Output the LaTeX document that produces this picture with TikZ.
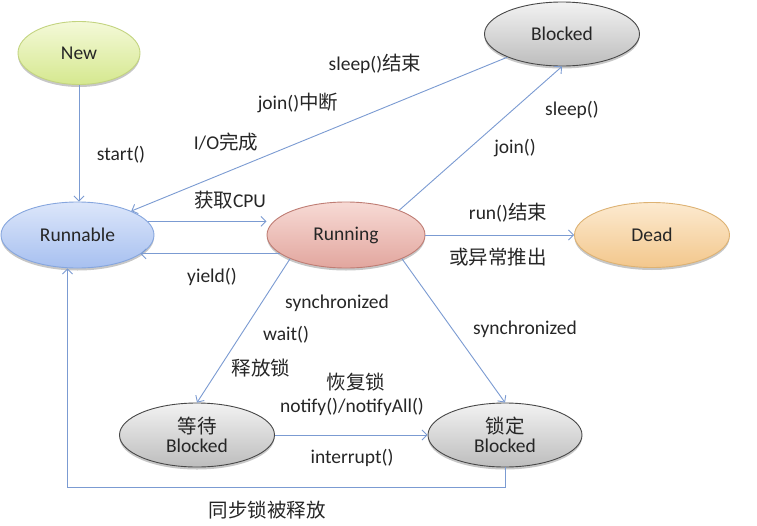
\documentclass[tikz,border=0pt]{standalone}
\usepackage{fontspec}
\setmainfont{Carlito}
\newfontfamily\cjk{Noto Sans CJK SC}
\newcommand\zh[1]{{\cjk #1}}
\usetikzlibrary{arrows.meta,shapes.geometric,shadows}
\definecolor{arrowc}{HTML}{7B9BD2}
\definecolor{txt}{HTML}{262626}
\tikzset{
  state/.style={ellipse, inner sep=0pt, line width=0.9pt, text=txt,
    font=\fontsize{19.5pt}{22pt}\selectfont, align=center,
    drop shadow={shadow xshift=0pt, shadow yshift=-2.5pt, opacity=0.22, fill=black}},
  newst/.style={state, draw=HTML-new, top color=NewTop, bottom color=NewBot},
  lbl/.style={text=txt, font=\fontsize{19.5pt}{22pt}\selectfont, inner sep=0pt},
  arr/.style={draw=arrowc, line width=0.9pt, -{Straight Barb[length=5pt,width=10pt]}},
}
\definecolor{NewTop}{HTML}{F4F9D8}
\definecolor{NewBot}{HTML}{D5E88F}
\definecolor{NewBd}{HTML}{C3D480}
\definecolor{RunaTop}{HTML}{DCE6FA}
\definecolor{RunaBot}{HTML}{A7C0F0}
\definecolor{RunaBd}{HTML}{86A6DE}
\definecolor{RuniTop}{HTML}{F7DAD5}
\definecolor{RuniBot}{HTML}{E2A69E}
\definecolor{RuniBd}{HTML}{BF7D74}
\definecolor{GrTop}{HTML}{F2F2F2}
\definecolor{GrBot}{HTML}{BDBDBD}
\definecolor{GrBd}{HTML}{474747}
\definecolor{DdTop}{HTML}{FCEAD0}
\definecolor{DdBot}{HTML}{F3C78C}
\definecolor{DdBd}{HTML}{DDB273}
\begin{document}
\begin{tikzpicture}[x=1pt,y=-1pt]
\useasboundingbox (0,0) rectangle (757,525);
\fill[white] (0,0) rectangle (757,525);

\node[state, draw=NewBd, top color=NewTop, bottom color=NewBot,
  minimum width=122pt, minimum height=63pt] (new) at (79,53) {New};
\node[state, draw=RunaBd, top color=RunaTop, bottom color=RunaBot,
  minimum width=153pt, minimum height=66pt] (runnable) at (77.5,235) {Runnable};
\node[state, draw=RuniBd, top color=RuniTop, bottom color=RuniBot,
  minimum width=158pt, minimum height=66pt] (running) at (346,235) {Running};
\node[state, draw=GrBd, top color=GrTop, bottom color=GrBot,
  minimum width=155pt, minimum height=64pt] (blocked) at (562,34) {Blocked};
\node[state, draw=DdBd, top color=DdTop, bottom color=DdBot,
  minimum width=155pt, minimum height=65pt] (dead) at (652,235) {Dead};
\node[state, draw=GrBd, top color=GrTop, bottom color=GrBot,
  minimum width=155pt, minimum height=64pt] (waitb) at (197,435) {\zh{等待}\\[-3pt]Blocked};
\node[state, draw=GrBd, top color=GrTop, bottom color=GrBot,
  minimum width=154pt, minimum height=64pt] (lockb) at (505,435) {\zh{锁定}\\[-3pt]Blocked};

% connectors
\draw[arr] (new.south) -- (new.south |- runnable.north);
\draw[arr] (blocked.203) -- (runnable.24);
\draw[arr] (runnable.11) -- (runnable.11 -| running.west);
\draw[arr] (running.196) -- (running.196 -| runnable.-17);
\draw[arr] (running.25) -- (blocked.south);
\draw[arr] (running.east) -- (dead.west);
\draw[arr] (running.203) -- (waitb.north);
\draw[arr] (running.-23) -- (lockb.north);
\draw[arr] (waitb.east) -- (lockb.west);
\draw[arr] (lockb.south) -- ++(0,20) -| ([xshift=-10pt]runnable.south);

% labels
\node[lbl] (l1) at (121,155) {start()};
\node[lbl] (l2) at (375,64) {sleep()\zh{结束}};
\node[lbl] (l3) at (298,103) {join()\zh{中断}};
\node[lbl] (l4) at (226,142) {I/O\zh{完成}};
\node[lbl] (l5) at (230,200) {\zh{获取}CPU};
\node[lbl] (l6) at (212,277) {yield()};
\node[lbl] (l7) at (572,110) {sleep()};
\node[lbl] (l8) at (515,148) {join()};
\node[lbl] (l9) at (508,213) {run()\zh{结束}};
\node[lbl] (l10) at (498,257) {\zh{或异常推出}};
\node[lbl] (l11) at (337,303) {synchronized};
\node[lbl] (l12) at (286,335) {wait()};
\node[lbl] (l13) at (261,368) {\zh{释放锁}};
\node[lbl] (l14) at (356,382) {\zh{恢复锁}};
\node[lbl] (l15) at (352,407) {notify()/notifyAll()};
\node[lbl] (l16) at (352,458) {interrupt()};
\node[lbl] (l17) at (525,329) {synchronized};
\node[lbl] (l18) at (267,510) {\zh{同步锁被释放}};
\end{tikzpicture}
\end{document}
